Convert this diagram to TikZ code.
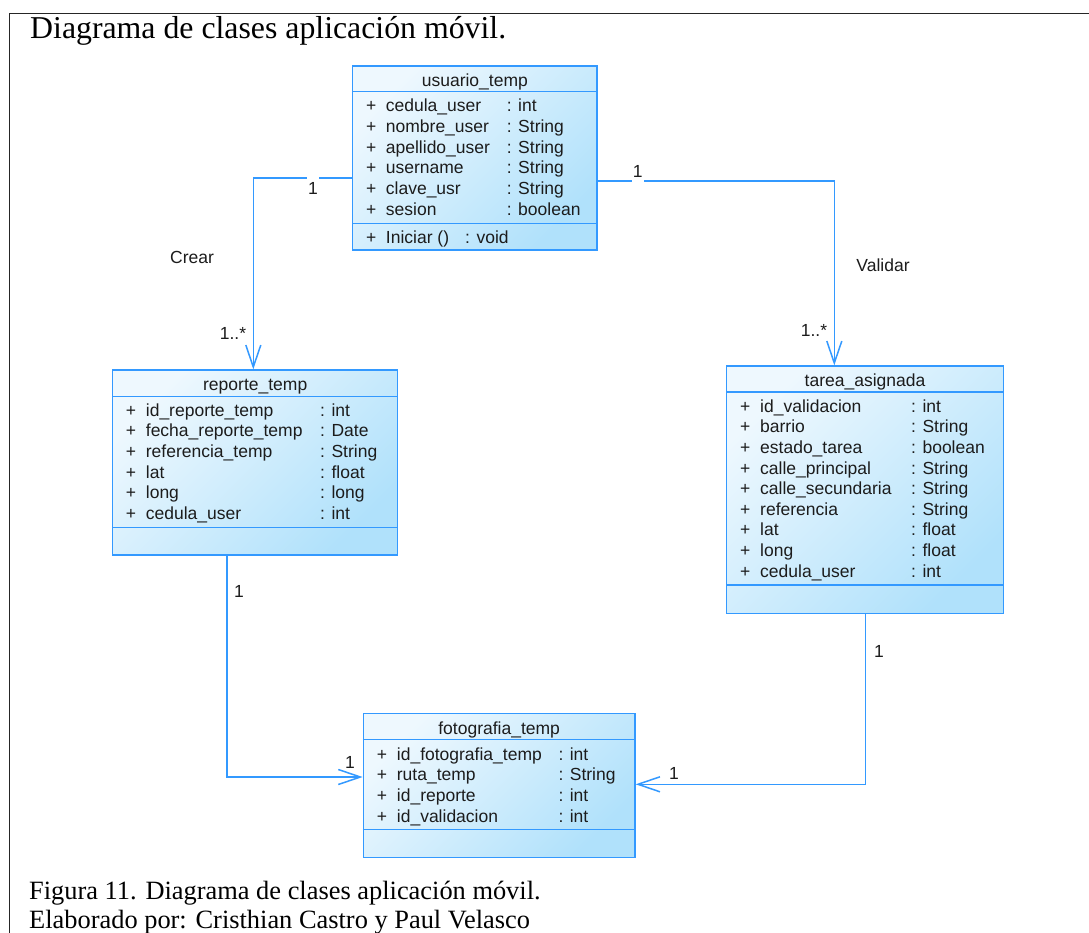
\documentclass[tikz,border=0pt]{standalone}
\usepackage{fontspec}
\setmainfont{Liberation Serif}
\newfontfamily\umlfont{Liberation Sans}
\usetikzlibrary{arrows.meta}
\definecolor{umlblue}{RGB}{51,153,255}
\definecolor{boxlight}{RGB}{238,248,254}
\definecolor{boxdark}{RGB}{176,225,251}
\definecolor{umltext}{RGB}{28,28,28}
\begin{document}
\begin{tikzpicture}[x=1pt,y=-1pt,
  classbox/.style={draw=umlblue, line width=1.3pt, top color=boxlight,
    bottom color=boxdark, shading angle=45, inner sep=0pt},
  compart/.style={draw=umlblue, line width=1.3pt},
  row/.style={anchor=base west, inner sep=0pt, text=umltext,
    font=\umlfont\fontsize{17.5}{20}\selectfont},
  hdr/.style={anchor=base, inner sep=0pt, text=umltext,
    font=\umlfont\fontsize{17.5}{20}\selectfont},
  assoc/.style={draw=umlblue, line width=1.5pt,
    -{Straight Barb[length=22pt,width=15pt,line width=1.5pt]}},
  mult/.style={inner sep=1pt, text=umltext,
    font=\umlfont\fontsize{17.5}{20}\selectfont},
  multcut/.style={mult, fill=white, inner xsep=1pt, inner ysep=5pt},
  frameline/.style={draw=black!85, line width=1.5pt}]

\useasboundingbox (0,0) rectangle (1089,933);
\fill[white] (0,0) rectangle (1089,933);

% outer frame (top and left rules)
\draw[frameline] (1089,13.3) -- (9.3,13.3) -- (9.3,933);

% title and caption
\node[anchor=base west, inner sep=0pt, font=\fontsize{31.8}{36}\selectfont]
  (title) at (30,38.3) {Diagrama de clases aplicación móvil.};
\node[anchor=base west, inner sep=0pt, font=\fontsize{26.4}{30}\selectfont]
  (cap1) at (29,899.3) {Figura 11. Diagrama de clases aplicación móvil.};
\node[anchor=base west, inner sep=0pt, font=\fontsize{26.4}{30}\selectfont]
  (cap2) at (29,928.5) {Elaborado por: Cristhian Castro y Paul Velasco};

% ---------- usuario_temp ----------
\node[classbox, minimum width=244.3pt, minimum height=184pt] (u) at (474.85,158) {};
\draw[compart] ([yshift=-26.3pt]u.north west) -- ([yshift=-26.3pt]u.north east);
\draw[compart] ([yshift=-158pt]u.north west) -- ([yshift=-158pt]u.north east);
\node[hdr] (uh) at (474.85,86.7) {usuario\_temp};
\foreach \nm/\ty [count=\i from 0] in {cedula\_user/int, nombre\_user/String,
    apellido\_user/String, username/String, clave\_usr/String, sesion/boolean}{
  \node[row] (up\i) at (366,{111.7+20.7*\i}) {+};
  \node[row] (un\i) at (385.7,{111.7+20.7*\i}) {\nm};
  \node[row] (ut\i) at (506.7,{111.7+20.7*\i}) {: \ty};
}
\node[row] (ump) at (366,243.3) {+};
\node[row] (umn) at (385.7,243.3) {Iniciar ()};
\node[row] (umt) at (465,243.3) {: void};

% ---------- reporte_temp ----------
\node[classbox, minimum width=285pt, minimum height=185pt] (r) at (255.2,462.5) {};
\draw[compart] ([yshift=-27.3pt]r.north west) -- ([yshift=-27.3pt]r.north east);
\draw[compart] ([yshift=-158.3pt]r.north west) -- ([yshift=-158.3pt]r.north east);
\node[hdr] (rh) at (255.2,390.7) {reporte\_temp};
\foreach \nm/\ty [count=\i from 0] in {id\_reporte\_temp/int,
    fecha\_reporte\_temp/Date, referencia\_temp/String, lat/float,
    long/long, cedula\_user/int}{
  \node[row] (rp\i) at (125.7,{416+20.7*\i}) {+};
  \node[row] (rn\i) at (145.7,{416+20.7*\i}) {\nm};
  \node[row] (rt\i) at (320,{416+20.7*\i}) {: \ty};
}

% ---------- tarea_asignada ----------
\node[classbox, minimum width=276.6pt, minimum height=247.3pt] (t) at (865,489.65) {};
\draw[compart] ([yshift=-26.7pt]t.north west) -- ([yshift=-26.7pt]t.north east);
\draw[compart] ([yshift=-219.7pt]t.north west) -- ([yshift=-219.7pt]t.north east);
\node[hdr] (th) at (865,386) {tarea\_asignada};
\foreach \nm/\ty [count=\i from 0] in {id\_validacion/int, barrio/String,
    estado\_tarea/boolean, calle\_principal/String,
    calle\_secundaria/String, referencia/String, lat/float, long/float,
    cedula\_user/int}{
  \node[row] (tp\i) at (740,{412.3+20.6*\i}) {+};
  \node[row] (tn\i) at (760,{412.3+20.6*\i}) {\nm};
  \node[row] (tt\i) at (911,{412.3+20.6*\i}) {: \ty};
}

% ---------- fotografia_temp ----------
\node[classbox, minimum width=271.7pt, minimum height=144pt] (f) at (499.15,785.3) {};
\draw[compart] ([yshift=-26.7pt]f.north west) -- ([yshift=-26.7pt]f.north east);
\draw[compart] ([yshift=-116.7pt]f.north west) -- ([yshift=-116.7pt]f.north east);
\node[hdr] (fh) at (499.15,734.3) {fotografia\_temp};
\foreach \nm/\ty [count=\i from 0] in {id\_fotografia\_temp/int,
    ruta\_temp/String, id\_reporte/int, id\_validacion/int}{
  \node[row] (fp\i) at (376.7,{760+20.7*\i}) {+};
  \node[row] (fn\i) at (396.7,{760+20.7*\i}) {\nm};
  \node[row] (ft\i) at (558.3,{760+20.7*\i}) {: \ty};
}

% ---------- associations ----------
\draw[assoc] ([yshift=-20pt]u.west) -| ([xshift=-1.9pt]r.north);
\draw[assoc] ([yshift=-23pt]u.east) -| ([xshift=-30.7pt]t.north);
\draw[assoc] ([xshift=-28.2pt]r.south) |- ([yshift=8.3pt]f.west);
\draw[assoc] ([xshift=0.5pt]t.south) |- ([yshift=1pt]f.east);

% multiplicities and role names
\node[multcut] (m1) at (313,188) {1};
\node[multcut] (m2) at (637.7,171.3) {1};
\node[mult] (m3) at (233,333) {1..*};
\node[mult] (m4) at (814,330) {1..*};
\node[mult] (crear) at (192,257) {Crear};
\node[mult] (validar) at (883,265) {Validar};
\node[mult] (m5) at (239,591) {1};
\node[mult] (m6) at (350,762) {1};
\node[mult] (m7) at (879,651) {1};
\node[mult] (m8) at (674,773.5) {1};

\end{tikzpicture}
\end{document}
